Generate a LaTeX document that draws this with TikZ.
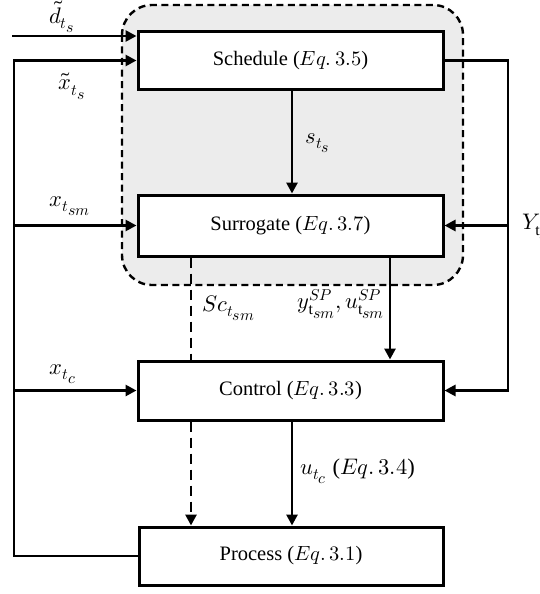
\documentclass[tikz,border=0pt]{standalone}
\usepackage{fontspec}
\usepackage{unicode-math}
\setmainfont{Liberation Serif}
\setmathfont{latinmodern-math.otf}
\usetikzlibrary{arrows.meta,shadows}
\definecolor{grpfill}{HTML}{ECECEC}
% nested subscript kept at script size
\newcommand{\nestsub}[1]{{\scriptstyle #1}}
\begin{document}
\begin{tikzpicture}[x=1pt,y=-1pt,
  blk/.style={draw, line width=3pt, fill=white, minimum width=305pt,
    inner sep=0pt, font=\fontsize{20.5}{24}\selectfont,
    drop shadow={opacity=0.18, shadow xshift=1.2pt, shadow yshift=-1.2pt}},
  wire/.style={line width=2.8pt},
  flow/.style={wire, -{Triangle[length=11pt,width=11pt]}},
  dashline/.style={dash pattern=on 10pt off 6pt},
  lbl/.style={font=\fontsize{22.5}{26}\selectfont, inner sep=1pt}]
\useasboundingbox (0,0) rectangle (540,594);

% optimisation group
\draw[line width=2.4pt, dash pattern=on 7pt off 4.5pt, fill=grpfill,
  rounded corners=30pt] (122,5) rectangle (463,285);

% blocks
\node[blk, minimum height=57pt] (sched) at (290.5,60.5) {Schedule ($Eq.\,3.5$)};
\node[blk, minimum height=61pt] (surr)  at (290.5,225.5) {Surrogate ($Eq.\,3.7$)};
\node[blk, minimum height=59pt] (ctrl)  at (290.5,390.5) {Control ($Eq.\,3.3$)};
\node[blk, minimum height=58pt, minimum width=304pt] (proc) at (291,556) {Process ($Eq.\,3.1$)};

% helper coordinates
\coordinate (dIn) at (12,36);
\coordinate (lft) at (14,300);
\coordinate (rgt) at (508,300);
\coordinate (spx) at (390,0);
\coordinate (scx) at (191,0);
\coordinate (ux)  at (292,0);

% inputs on the left
\draw[flow] (dIn) -- (dIn -| sched.west);
\draw[flow] (proc.west) -| (lft) |- (sched.west);
\draw[flow] (lft |- surr.west) -- (surr.west);
\draw[flow] (lft |- ctrl.west) -- (ctrl.west);

% schedule outputs
\draw[flow] (sched.south -| ux) -- (surr.north -| ux);
\draw[flow] (sched.east) -| (rgt) |- (ctrl.east);
\draw[flow] (rgt |- surr.east) -- (surr.east);

% surrogate to control and process
\draw[flow] (surr.south -| spx) -- (ctrl.north -| spx);
\draw[wire, dashline] (surr.south -| scx) -- (ctrl.north -| scx);
\draw[flow, dashline] (ctrl.south -| scx) -- (proc.north -| scx);

% control to process
\draw[flow] (ctrl.south -| ux) -- (proc.north -| ux);

% signal labels
\node[lbl] (ld) at (62,17) {$\tilde{d}_{t_{\nestsub{s}}}$};
\node[lbl] (lx) at (72,86) {$\tilde{x}_{t_{\nestsub{s}}}$};
\node[lbl] (lxsm) at (70,206) {$x_{t_{\nestsub{sm}}}$};
\node[lbl] (lxc) at (63,374) {$x_{t_{\nestsub{c}}}$};
\node[lbl] (ls) at (318,143) {$s_{t_{\nestsub{s}}}$};
\node[lbl, anchor=west] (lsc) at (201,308) {$Sc_{t_{\nestsub{sm}}}$};
\node[lbl, anchor=east] (lsp) at (386,304) {$y^{SP}_{\mathrm{t}_{\nestsub{sm}}}, u^{SP}_{\mathrm{t}_{\nestsub{sm}}}$};
\node[lbl, anchor=west] (lu) at (299,471) {$u_{t_{\nestsub{c}}}$ ($Eq.\,3.4$)};
\node[lbl, anchor=west] (lY) at (521,227) {$Y_{\mathrm{t}_{\nestsub{s}}}$};
\end{tikzpicture}
\end{document}
